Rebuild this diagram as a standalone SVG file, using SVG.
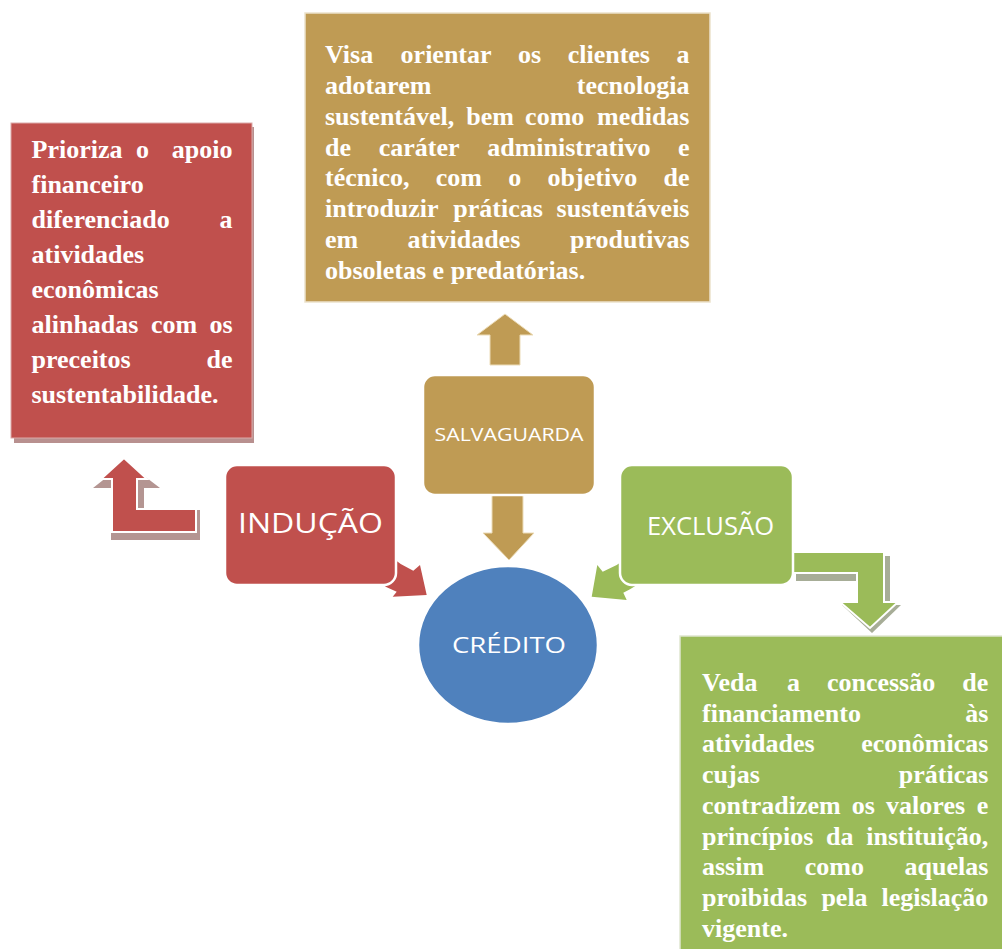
<svg xmlns="http://www.w3.org/2000/svg" width="1002" height="949" viewBox="0 0 1002 949">
<style>
.bt{font-family:"Liberation Serif","Times New Roman",serif;font-weight:bold;font-size:26px;fill:#ffffff}
.lbl{font-family:"Open Sans","Noto Sans",sans-serif;fill:#ffffff;text-anchor:middle}
.node{stroke:#ffffff;stroke-width:2.5}
.red{fill:#c0504d}
.gold{fill:#bf9b54}
.green{fill:#9bbb59}
.blue{fill:#4f81bd}
</style>
<rect width="1002" height="949" fill="#ffffff"/>

<g id="connectors">
  <!-- red bent arrow (INDUÇÃO to text) -->
  <polygon points="126,462 160,488 144,488 144,510 200,510 200,540 111,540 111,488 93,488" fill="#b49592"/>
  <polygon class="red" points="124,458 147,479 137,479 137,509 196,509 196,532 112,532 112,479 101,479" stroke="#ffffff" stroke-width="2"/>
  <!-- gold up arrow -->
  <polygon class="gold" points="505,314 533,335 520,335 520,365 490,365 490,335 477,335" stroke="#ecdcb8" stroke-width="1"/>
  <!-- gold down arrow -->
  <polygon class="gold" points="492,490 523,490 523,533 534,533 509,560 483,533 492,533" stroke="#ecdcb8" stroke-width="1"/>
  <!-- green bent arrow -->
  <polygon points="796,556 890,556 890,605 901,605 872,633 842,605 861,605 861,581 796,581" fill="#a7ad97"/>
  <polygon class="green" points="788,552 884,552 884,602 898,602 870,628 840,602 857,602 857,573 788,573" stroke="#ffffff" stroke-width="2"/>
  <!-- red arrow into CRÉDITO -->
  <polygon class="red" points="426.7,595 392.7,596.7 396.7,591.7 386.7,587.3 375,580 390,556 400.7,564 413.3,570.7 420,565"/>
  <!-- green arrow into CRÉDITO -->
  <polygon class="green" points="591.7,596.7 597.3,565 602.7,571.7 616.7,565 630,556 645,580 630,589.3 623.3,592.7 626.7,600"/>
</g>

<g id="box-inducao-text">
  <rect x="14" y="127" width="240" height="316" fill="#b8908f"/>
  <rect class="red" x="11" y="123" width="241" height="315" stroke="#dcaaa9" stroke-width="1"/>
  <text class="bt" y="158"><tspan x="31.5">Prioriza</tspan><tspan x="136">o</tspan><tspan x="232.5" text-anchor="end">apoio</tspan></text>
  <text class="bt" x="31.5" y="193">financeiro</text>
  <text class="bt" y="228"><tspan x="31.5">diferenciado</tspan><tspan x="232.5" text-anchor="end">a</tspan></text>
  <text class="bt" x="31.5" y="263">atividades</text>
  <text class="bt" x="31.5" y="298">econômicas</text>
  <text class="bt" y="333"><tspan x="31.5">alinhadas</tspan><tspan x="151">com</tspan><tspan x="232.5" text-anchor="end">os</tspan></text>
  <text class="bt" y="368"><tspan x="31.5">preceitos</tspan><tspan x="232.5" text-anchor="end">de</tspan></text>
  <text class="bt" x="31.5" y="403">sustentabilidade.</text>
</g>

<g id="box-salvaguarda-text">
  <rect class="gold" x="305" y="13" width="405" height="289" stroke="#ece2cc" stroke-width="1.5"/>
  <text class="bt" y="63.3"><tspan x="325">Visa</tspan><tspan x="400.6">orientar</tspan><tspan x="518.1">os</tspan><tspan x="567.7">clientes</tspan><tspan x="689.5" text-anchor="end">a</tspan></text>
  <text class="bt" y="94"><tspan x="325">adotarem</tspan><tspan x="689.5" text-anchor="end">tecnologia</tspan></text>
  <text class="bt" y="124.8"><tspan x="325">sustentável,</tspan><tspan x="466.2">bem</tspan><tspan x="525.1">como</tspan><tspan x="689.5" text-anchor="end">medidas</tspan></text>
  <text class="bt" y="155.5"><tspan x="325">de</tspan><tspan x="378.7">caráter</tspan><tspan x="487.2">administrativo</tspan><tspan x="689.5" text-anchor="end">e</tspan></text>
  <text class="bt" y="186.3"><tspan x="325">técnico,</tspan><tspan x="435.8">com</tspan><tspan x="508.3">o</tspan><tspan x="547.6">objetivo</tspan><tspan x="689.5" text-anchor="end">de</tspan></text>
  <text class="bt" y="217"><tspan x="325">introduzir</tspan><tspan x="453.3">práticas</tspan><tspan x="689.5" text-anchor="end">sustentáveis</tspan></text>
  <text class="bt" y="247.8"><tspan x="325">em</tspan><tspan x="407.6">atividades</tspan><tspan x="689.5" text-anchor="end">produtivas</tspan></text>
  <text class="bt" x="325" y="278.5">obsoletas e predatórias.</text>
</g>

<g id="box-exclusao-text">
  <rect class="green" x="680" y="636" width="330" height="320" stroke="#dfe6cf" stroke-width="1.5"/>
  <text class="bt" y="691"><tspan x="702">Veda</tspan><tspan x="786.9">a</tspan><tspan x="826.9">concessão</tspan><tspan x="988.3" text-anchor="end">de</tspan></text>
  <text class="bt" y="721.7"><tspan x="702">financiamento</tspan><tspan x="988.3" text-anchor="end">às</tspan></text>
  <text class="bt" y="752.4"><tspan x="702">atividades</tspan><tspan x="988.3" text-anchor="end">econômicas</tspan></text>
  <text class="bt" y="783.1"><tspan x="702">cujas</tspan><tspan x="988.3" text-anchor="end">práticas</tspan></text>
  <text class="bt" y="813.8"><tspan x="702">contradizem</tspan><tspan x="851.8">os</tspan><tspan x="886.1">valores</tspan><tspan x="988.3" text-anchor="end">e</tspan></text>
  <text class="bt" y="844.5"><tspan x="702">princípios</tspan><tspan x="826">da</tspan><tspan x="988.3" text-anchor="end">instituição,</tspan></text>
  <text class="bt" y="875.2"><tspan x="702">assim</tspan><tspan x="804.7">como</tspan><tspan x="988.3" text-anchor="end">aquelas</tspan></text>
  <text class="bt" y="905.9"><tspan x="702">proibidas</tspan><tspan x="821.4">pela</tspan><tspan x="988.3" text-anchor="end">legislação</tspan></text>
  <text class="bt" x="702" y="936.6">vigente.</text>
</g>

<g id="node-inducao">
  <rect class="red node" x="225" y="465" width="171" height="120" rx="12"/>
  <text class="lbl" x="310.5" y="533" font-size="27" textLength="145" lengthAdjust="spacingAndGlyphs">INDUÇÃO</text>
</g>
<g id="node-salvaguarda">
  <rect class="gold node" x="423" y="375" width="172" height="120" rx="12"/>
  <text class="lbl" x="509" y="441" font-size="18" textLength="149" lengthAdjust="spacingAndGlyphs">SALVAGUARDA</text>
</g>
<g id="node-exclusao">
  <rect class="green node" x="620" y="465" width="173" height="120" rx="12"/>
  <text class="lbl" x="710.5" y="535" font-size="26" textLength="127" lengthAdjust="spacingAndGlyphs">EXCLUSÃO</text>
</g>
<g id="node-credito">
  <ellipse class="blue node" cx="508" cy="645" rx="90" ry="79"/>
  <text class="lbl" x="509" y="653" font-size="22" textLength="114" lengthAdjust="spacingAndGlyphs">CRÉDITO</text>
</g>
</svg>
